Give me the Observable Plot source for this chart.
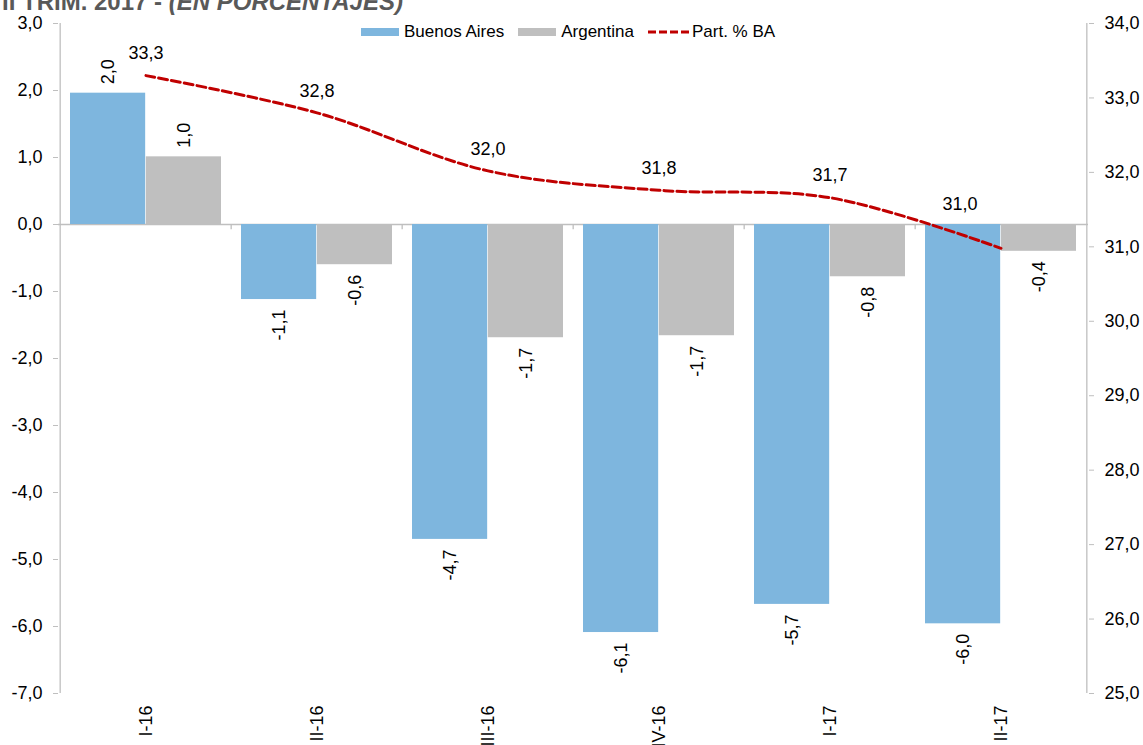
<!DOCTYPE html>
<html>
<head>
<meta charset="utf-8">
<script src="https://cdn.jsdelivr.net/npm/d3@7"></script>
<script src="https://cdn.jsdelivr.net/npm/@observablehq/plot@0.6"></script>
<style>
  body { margin: 0; background: #fff; font-family: "Liberation Sans", Arial, sans-serif; }
  #wrap { position: relative; width: 1143px; height: 745px; overflow: hidden; background: #fff; }
  #title { position: absolute; left: 2px; top: -10px; font-size: 24px; line-height: 24px; font-weight: bold; color: #595959; white-space: nowrap; }
  #legend { position: absolute; left: 361px; top: 22px; height: 20px; display: flex; align-items: center; font-size: 17px; color: #000; white-space: nowrap; }
  #legend .sw { display: inline-block; width: 38px; height: 8px; margin-right: 5px; }
  #legend .item { display: flex; align-items: center; margin-right: 14px; }
  #legend svg { margin-right: 3px; }
</style>
</head>
<body>
<div id="wrap">
  <div id="chart"></div>
  <div id="title">II TRIM. 2017 - <i>(EN PORCENTAJES)</i></div>
  <div id="legend"></div>
</div>
<script>
// ---- data ----
const categories = ["I-16", "II-16", "III-16", "IV-16", "I-17", "II-17"];
const buenosAires = [1.96, -1.12, -4.70, -6.09, -5.67, -5.96];
const argentina = [1.01, -0.60, -1.69, -1.66, -0.78, -0.40];
const partBA = [33.3, 32.8, 32.02, 31.76, 31.66, 30.98];
const leftTicks = [-7, -6, -5, -4, -3, -2, -1, 0, 1, 2, 3];
const rightTicks = [25, 26, 27, 28, 29, 30, 31, 32, 33, 34];
const seriesNames = ["Buenos Aires", "Argentina", "Part. % BA"];

// ---- styling ----
const colBA = "#7EB6DE", colAR = "#BFBFBF", colLine = "#C00000", axisGray = "#BFBFBF";
const W = 1143, H = 745, mL = 58, mR = 55, mT = 23, mB = 52;
const bw = (W - mL - mR) / categories.length;
const gap = 10;
const barShift = (bw / 2 - gap) / 2;

const fmt = d => d3.format(".1f")(d).replace(".", ",").replace("\u2212", "-");
// right axis (25..34) mapped onto left axis (-7..3)
const toLeft = v => -7 + (v - 25) * 10 / 9;
const fromLeft = d => 25 + (d + 7) * 0.9;

const rows = categories.map((c, i) => ({cat: c, ba: buenosAires[i], ar: argentina[i], part: partBA[i], py: toLeft(partBA[i])}));

const chart = Plot.plot({
  width: W, height: H,
  marginTop: mT, marginBottom: mB, marginLeft: mL, marginRight: mR,
  style: {fontFamily: "'Liberation Sans', Arial, sans-serif", fontSize: "18px", color: "#000", background: "#fff"},
  x: {domain: categories, padding: 0, axis: null},
  y: {domain: [-7, 3], axis: null},
  marks: [
    Plot.ruleY([0], {stroke: axisGray, strokeWidth: 1.3}),
    // axis lines at left/right edge
    Plot.ruleX([categories[0]], {dx: -bw / 2, y1: -7, y2: 3, stroke: axisGray, strokeWidth: 1.3}),
    Plot.ruleX([categories[categories.length - 1]], {dx: bw / 2, y1: -7, y2: 3, stroke: axisGray, strokeWidth: 1.3}),
    // category boundary ticks on zero line
    Plot.ruleX(categories.slice(1), {dx: -bw / 2, y1: 0, y2: -0.08, stroke: axisGray, strokeWidth: 1.3}),
    Plot.barY(rows, {x: "cat", y: "ba", fill: colBA, insetLeft: gap, insetRight: bw / 2}),
    Plot.barY(rows, {x: "cat", y: "ar", fill: colAR, insetLeft: bw / 2, insetRight: gap}),
    // bar labels
    Plot.text(rows.filter(d => d.ba >= 0), {x: "cat", y: "ba", text: d => fmt(d.ba), rotate: -90, textAnchor: "start", dx: -barShift, dy: -9, fill: "#000"}),
    Plot.text(rows.filter(d => d.ba < 0), {x: "cat", y: "ba", text: d => fmt(d.ba), rotate: -90, textAnchor: "end", dx: -barShift, dy: 10, fill: "#000"}),
    Plot.text(rows.filter(d => d.ar >= 0), {x: "cat", y: "ar", text: d => fmt(d.ar), rotate: -90, textAnchor: "start", dx: barShift, dy: -9, fill: "#000"}),
    Plot.text(rows.filter(d => d.ar < 0), {x: "cat", y: "ar", text: d => fmt(d.ar), rotate: -90, textAnchor: "end", dx: barShift, dy: 10, fill: "#000"}),
    // line
    Plot.line(rows, {x: "cat", y: "py", stroke: colLine, strokeWidth: 3, strokeDasharray: "9,4", curve: "catmull-rom"}),
    Plot.text(rows.slice(0, -1), {x: "cat", y: "py", text: d => fmt(d.part), dy: -22, fill: "#000"}),
    Plot.text(rows.slice(-1), {x: "cat", y: "py", text: d => fmt(d.part), dx: -41, dy: -44, fill: "#000"}),
    // axes
    Plot.axisY(leftTicks, {anchor: "left", tickSize: 5, tickPadding: 11, tickFormat: fmt, stroke: axisGray, fill: "#000", label: null}),
    Plot.axisY(rightTicks.map(toLeft), {anchor: "right", tickSize: 5, tickPadding: 11, tickFormat: d => fmt(fromLeft(d)), stroke: axisGray, fill: "#000", label: null}),
    Plot.axisX({anchor: "bottom", tickSize: 0, tickPadding: 12, tickRotate: -90, fill: "#000", label: null})
  ]
});
document.getElementById("chart").appendChild(chart);

// legend
const legend = document.getElementById("legend");
const swColors = [colBA, colAR];
seriesNames.forEach((name, i) => {
  const item = document.createElement("div");
  item.className = "item";
  if (i < 2) {
    const sw = document.createElement("span");
    sw.className = "sw";
    sw.style.background = swColors[i];
    item.appendChild(sw);
  } else {
    const ns = "http://www.w3.org/2000/svg";
    const s = document.createElementNS(ns, "svg");
    s.setAttribute("width", 41); s.setAttribute("height", 8);
    const l = document.createElementNS(ns, "line");
    l.setAttribute("x1", 0); l.setAttribute("x2", 41); l.setAttribute("y1", 4); l.setAttribute("y2", 4);
    l.setAttribute("stroke", colLine); l.setAttribute("stroke-width", 3); l.setAttribute("stroke-dasharray", "8,3");
    s.appendChild(l);
    item.appendChild(s);
  }
  const t = document.createElement("span");
  t.textContent = name;
  item.appendChild(t);
  legend.appendChild(item);
});
</script>
</body>
</html>
